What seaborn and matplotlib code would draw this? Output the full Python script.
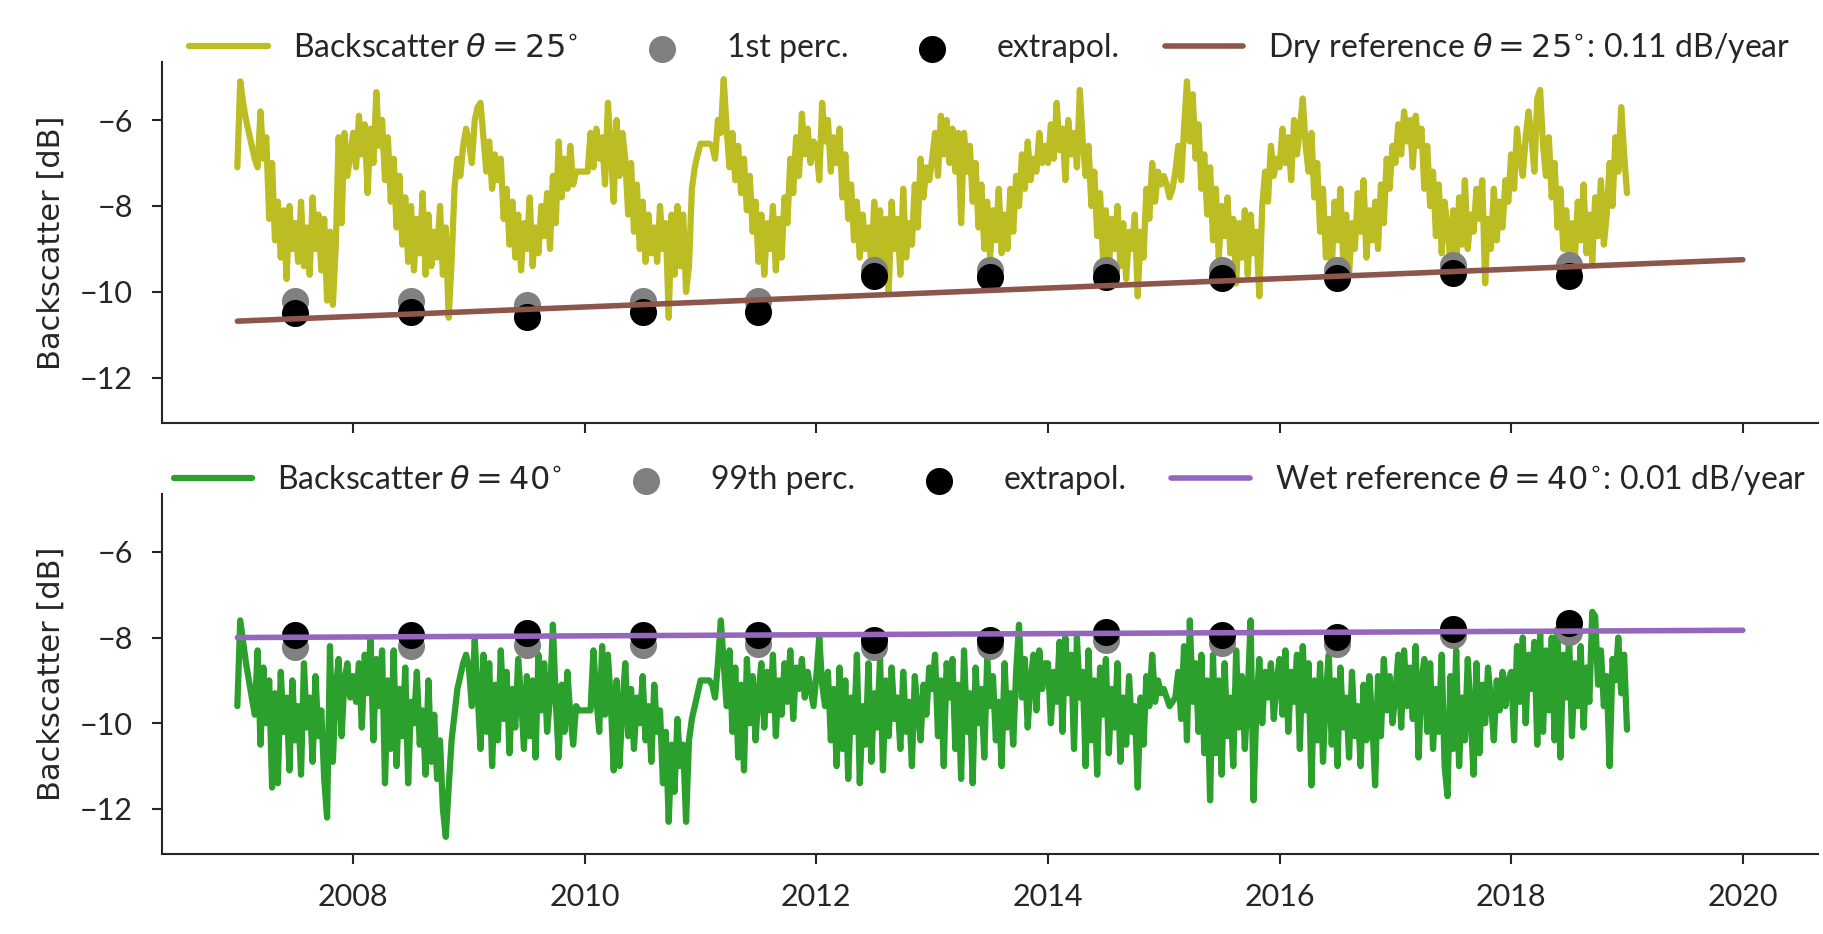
import numpy as np
import pandas as pd
import matplotlib
matplotlib.use('Agg')
import matplotlib.pyplot as plt
import seaborn as sns

# --- backscatter at 25 deg, one list per year (about every 9 days) ---
bs25_2007 = [-7.1, -5.1, -5.6, -6.0, -6.3, -6.6, -6.9, -7.1, -5.8, -6.9, -6.4, -8.3, -7.0, -8.8, -7.9, -9.2,
             -8.1, -9.7, -8.0, -9.0, -8.4, -9.3, -7.9, -9.4, -8.5, -9.6, -7.8, -9.0, -8.2, -9.5, -8.3, -10.2,
             -8.6, -10.3, -8.9, -6.4, -8.4, -6.3, -7.3, -6.8]
bs25_2008 = [-6.3, -7.1, -5.9, -6.8, -6.1, -7.7, -6.2, -7.0, -5.35, -6.6, -6.0, -7.4, -6.4, -7.9, -6.9, -8.5,
             -7.3, -8.9, -7.8, -9.3, -8.0, -9.5, -8.3, -9.1, -7.7, -9.6, -8.2, -9.4, -8.6, -9.2, -8.0, -9.6,
             -8.5, -10.6, -9.3, -7.6, -6.9, -7.3, -6.6, -6.2]
bs25_2009 = [-6.5, -7.0, -6.0, -5.7, -5.6, -6.4, -7.2, -6.5, -7.6, -6.8, -7.4, -6.9, -8.3, -7.6, -8.9, -7.9,
             -9.2, -8.2, -9.5, -8.4, -9.0, -7.8, -9.4, -8.5, -9.1, -8.0, -8.7, -7.7, -9.0, -7.3, -8.4, -6.5,
             -7.8, -6.9, -7.6, -6.6, -7.5, -7.2, -7.2, -7.2]
bs25_2010 = [-7.2, -7.2, -6.3, -7.1, -6.2, -6.9, -6.4, -7.5, -5.6, -6.7, -7.9, -6.0, -7.3, -6.3, -6.9, -8.2,
             -7.0, -8.6, -7.5, -9.0, -7.9, -9.3, -8.2, -9.1, -8.5, -9.3, -8.0, -9.0, -8.4, -10.6, -8.2, -9.6,
             -8.0, -9.4, -8.2, -10.0, -9.4, -7.6, -7.1, -6.8]
bs25_2011 = [-6.55, -6.55, -6.55, -6.55, -6.6, -6.9, -6.0, -6.3, -5.05, -6.2, -7.1, -6.3, -7.4, -6.6, -7.7, -6.9,
             -8.1, -7.3, -8.6, -7.9, -9.3, -8.2, -9.6, -8.4, -9.0, -8.0, -9.5, -8.3, -9.2, -7.8, -8.4, -6.9,
             -7.7, -6.4, -7.3, -5.85, -6.8, -6.2, -7.0, -6.5]
bs25_2012 = [-6.6, -7.4, -5.6, -6.5, -6.0, -7.2, -6.4, -7.0, -6.2, -7.8, -6.8, -8.3, -7.5, -8.8, -7.9, -9.2,
             -8.2, -9.0, -8.5, -9.4, -7.9, -9.3, -8.1, -9.5, -8.3, -10.0, -7.9, -9.0, -8.3, -9.6, -7.6, -9.2,
             -8.4, -8.9, -7.5, -8.5, -6.9, -7.8, -7.1, -7.4]
bs25_2013 = [-6.9, -6.3, -7.3, -5.9, -6.8, -6.0, -7.0, -6.2, -7.2, -6.3, -8.4, -6.3, -7.2, -6.6, -7.9, -7.0,
             -8.5, -7.5, -9.0, -7.9, -9.2, -8.1, -8.8, -7.6, -9.1, -8.2, -9.0, -7.6, -8.6, -7.3, -8.0, -6.8,
             -7.6, -6.5, -7.4, -6.9, -7.2, -6.3, -7.0, -6.6]
bs25_2014 = [-7.0, -6.1, -6.9, -5.6, -6.7, -6.2, -7.4, -6.0, -6.8, -6.3, -7.1, -5.3, -6.5, -7.3, -6.6, -8.0,
             -7.2, -8.7, -7.7, -9.2, -8.1, -9.5, -8.3, -9.0, -8.0, -9.4, -8.4, -9.7, -8.6, -9.0, -8.2, -10.1,
             -8.6, -9.2, -7.6, -8.3, -7.0, -7.9, -7.2, -7.5]
bs25_2015 = [-7.3, -7.5, -7.8, -7.6, -7.2, -6.6, -7.4, -6.2, -5.1, -6.5, -5.4, -6.9, -6.1, -7.6, -6.8, -8.2,
             -7.1, -8.8, -7.6, -9.2, -8.0, -8.7, -7.8, -9.1, -8.3, -9.8, -8.4, -9.2, -8.1, -9.6, -8.2, -9.1,
             -8.6, -10.1, -8.0, -7.2, -7.9, -6.6, -7.3, -6.9]
bs25_2016 = [-7.1, -6.2, -7.0, -6.4, -7.4, -6.0, -6.8, -6.2, -5.5, -6.6, -7.2, -6.3, -7.8, -7.0, -8.6, -7.6,
             -9.2, -8.3, -9.5, -7.9, -8.8, -7.6, -9.3, -8.2, -9.6, -8.4, -9.0, -7.7, -8.6, -7.4, -9.2, -8.1,
             -8.8, -7.9, -9.0, -7.5, -8.4, -6.9, -7.6, -6.6]
bs25_2017 = [-7.0, -6.1, -6.8, -5.8, -6.5, -6.0, -7.1, -5.9, -6.6, -6.2, -7.6, -6.6, -8.0, -7.2, -8.7, -7.5,
             -9.1, -7.9, -8.5, -9.3, -8.1, -9.5, -7.8, -8.9, -7.4, -9.0, -8.2, -8.6, -7.6, -8.3, -7.4, -9.8,
             -8.3, -9.0, -7.6, -8.8, -7.9, -8.5, -7.4, -7.9]
bs25_2018 = [-6.8, -7.6, -6.2, -6.9, -7.3, -6.4, -5.8, -6.4, -7.2, -5.5, -5.3, -6.6, -7.3, -6.4, -7.8, -7.0,
             -8.5, -7.6, -9.0, -8.1, -9.4, -8.4, -9.2, -7.9, -8.8, -7.5, -9.1, -8.2, -9.3, -7.8, -8.7, -7.4,
             -8.9, -8.2, -7.0, -8.0, -6.4, -7.2, -5.7, -6.8]
bs25_2019 = [-7.7]

# --- backscatter at 40 deg ---
bs40_2007 = [-9.6, -7.6, -8.1, -8.6, -9.0, -9.4, -9.8, -8.3, -10.5, -8.7, -10.0, -9.0, -11.5, -9.3, -11.4, -8.8,
             -10.2, -9.4, -11.1, -9.0, -10.4, -9.6, -11.2, -8.6, -10.1, -9.4, -10.9, -8.9, -10.3, -9.7, -11.3, -12.2,
             -8.2, -10.9, -9.2, -8.5, -10.3, -9.0, -8.6, -9.4]
bs40_2008 = [-8.9, -9.5, -8.6, -10.1, -8.4, -9.3, -8.0, -10.4, -8.5, -9.6, -8.3, -11.4, -9.0, -10.6, -8.3, -11.0,
             -9.2, -10.3, -8.7, -11.4, -9.5, -10.0, -8.8, -10.5, -9.7, -11.2, -9.0, -10.9, -9.8, -11.3, -10.4, -12.0,
             -12.65, -11.5, -10.4, -9.8, -9.2, -8.9, -8.6, -8.4]
bs40_2009 = [-8.7, -9.6, -8.05, -9.3, -10.6, -8.4, -10.2, -8.6, -11.0, -9.1, -10.4, -8.3, -9.9, -8.8, -10.7, -9.2,
             -10.1, -8.5, -9.4, -10.6, -8.9, -10.3, -9.0, -10.8, -8.4, -9.7, -8.6, -10.2, -9.4, -7.7, -9.5, -10.8,
             -9.1, -10.2, -8.8, -9.8, -10.5, -9.6, -9.7, -9.7]
bs40_2010 = [-9.7, -9.7, -9.7, -8.3, -9.4, -10.2, -8.2, -9.8, -8.4, -9.5, -11.1, -9.0, -11.0, -9.6, -8.6, -10.3,
             -9.2, -10.6, -9.4, -10.0, -8.9, -10.4, -9.6, -10.9, -9.1, -10.2, -9.7, -11.4, -10.2, -12.3, -10.5, -11.6,
             -9.9, -11.0, -10.5, -12.3, -10.4, -9.9, -9.6, -9.3]
bs40_2011 = [-9.0, -9.0, -9.0, -9.0, -9.1, -9.4, -8.6, -7.6, -8.6, -9.6, -8.3, -10.2, -8.7, -10.8, -9.1, -11.1,
             -8.5, -10.0, -8.9, -10.4, -9.3, -8.6, -10.1, -8.8, -9.7, -8.4, -10.3, -9.0, -9.8, -8.6, -9.5, -8.3,
             -9.9, -8.7, -9.2, -8.5, -9.4, -8.8, -9.2, -9.6]
bs40_2012 = [-8.9, -8.0, -9.1, -9.6, -8.8, -10.4, -9.2, -11.0, -8.7, -10.6, -9.0, -11.3, -9.4, -10.2, -8.4, -11.4,
             -9.6, -10.5, -8.6, -10.9, -9.3, -10.1, -8.5, -11.1, -9.0, -10.3, -8.7, -9.9, -9.4, -10.6, -8.8, -10.2,
             -9.5, -11.0, -8.9, -9.7, -10.4, -9.1, -9.8, -8.7]
bs40_2013 = [-9.2, -8.4, -10.3, -9.0, -11.0, -8.6, -9.4, -8.5, -10.6, -9.1, -11.3, -8.3, -10.2, -9.3, -11.4, -8.7,
             -10.0, -9.2, -10.8, -8.5, -9.6, -8.9, -10.4, -9.5, -11.0, -8.6, -10.1, -9.3, -10.5, -8.8, -7.7, -9.4,
             -8.5, -10.1, -9.0, -8.4, -9.7, -8.3, -9.2, -8.6]
bs40_2014 = [-8.6, -10.0, -8.8, -9.5, -8.1, -10.2, -8.0, -9.3, -8.4, -10.6, -8.0, -9.4, -8.8, -11.0, -8.3, -10.4,
             -9.0, -11.2, -8.7, -9.8, -8.5, -10.7, -9.2, -10.1, -8.6, -10.9, -9.4, -10.5, -8.9, -10.2, -9.6, -11.5,
             -9.4, -10.5, -8.9, -9.6, -8.4, -9.5, -9.0, -9.3]
bs40_2015 = [-9.2, -9.4, -9.6, -9.5, -9.4, -8.8, -9.9, -8.2, -10.4, -7.6, -9.5, -8.6, -10.2, -8.4, -10.7, -9.0,
             -11.8, -8.4, -10.7, -9.0, -11.2, -8.6, -10.3, -9.4, -11.0, -8.3, -10.1, -8.9, -10.6, -9.3, -7.6, -11.8,
             -9.6, -8.5, -10.0, -8.8, -9.4, -8.6, -9.9, -9.0]
bs40_2016 = [-8.5, -9.8, -8.3, -10.2, -8.8, -9.5, -8.4, -10.6, -8.2, -9.7, -8.6, -11.45, -9.0, -10.4, -8.6, -10.9,
             -9.3, -8.4, -10.5, -9.0, -11.0, -8.7, -10.1, -9.4, -10.8, -8.8, -10.3, -9.6, -11.0, -9.1, -10.4, -8.9,
             -9.9, -11.45, -8.9, -10.3, -8.5, -9.7, -8.9, -10.0]
bs40_2017 = [-9.3, -8.4, -10.1, -8.3, -9.6, -8.7, -9.9, -8.2, -10.8, -9.0, -8.5, -10.2, -8.6, -10.6, -9.2, -10.2,
             -8.4, -11.0, -11.7, -8.9, -10.6, -8.3, -11.0, -9.4, -10.4, -8.5, -9.8, -11.2, -8.6, -10.7, -9.1, -10.0,
             -8.7, -9.5, -10.4, -9.0, -9.7, -8.8, -9.6, -9.0]
bs40_2018 = [-8.8, -10.4, -8.2, -9.5, -8.0, -10.0, -8.4, -9.2, -8.1, -10.5, -7.9, -10.2, -8.3, -9.7, -8.0, -10.4,
             -7.8, -10.8, -8.4, -9.4, -8.0, -10.3, -8.6, -9.6, -8.2, -10.1, -8.7, -9.5, -7.4, -7.5, -9.1, -8.3,
             -9.6, -8.9, -11.0, -8.5, -9.0, -8.0, -9.3, -8.4]
bs40_2019 = [-10.15]

# --- yearly percentiles / extrapolated values ---
perc_years = [2007.5, 2008.5, 2009.5, 2010.5, 2011.5, 2012.5, 2013.5, 2014.5, 2015.5, 2016.5, 2017.5, 2018.5]
dry_p1 = [-10.2, -10.2, -10.3, -10.2, -10.2, -9.5, -9.5, -9.48, -9.5, -9.48, -9.38, -9.38]
dry_extrapol = [-10.5, -10.47, -10.58, -10.46, -10.46, -9.62, -9.65, -9.65, -9.67, -9.67, -9.57, -9.63]
wet_p99 = [-8.21, -8.2, -8.18, -8.18, -8.16, -8.23, -8.2, -8.05, -8.12, -8.16, -7.93, -7.86]
wet_extrapol = [-7.95, -7.93, -7.89, -7.93, -7.95, -8.05, -8.05, -7.88, -7.95, -7.98, -7.79, -7.65]

# --- reference trend lines ---
ref_years = [2007, 2020]
dry_ref = [-10.68, -9.25]
wet_ref = [-8.0, -7.83]


def build_series(blocks, first_year):
    t, v = [], []
    for k, vals in enumerate(blocks):
        for i, val in enumerate(vals):
            t.append(first_year + k + i / 40)
            v.append(val)
    return pd.DataFrame({'time': t, 'backscatter': v})


df25 = build_series([bs25_2007, bs25_2008, bs25_2009, bs25_2010, bs25_2011, bs25_2012, bs25_2013,
                     bs25_2014, bs25_2015, bs25_2016, bs25_2017, bs25_2018, bs25_2019], 2007)
df40 = build_series([bs40_2007, bs40_2008, bs40_2009, bs40_2010, bs40_2011, bs40_2012, bs40_2013,
                     bs40_2014, bs40_2015, bs40_2016, bs40_2017, bs40_2018, bs40_2019], 2007)

sns.set_theme(style='ticks')
plt.rcParams['font.family'] = ['Lato', 'DejaVu Sans']
plt.rcParams['mathtext.fontset'] = 'dejavusans'
plt.rcParams['axes.linewidth'] = 1.5

fig = plt.figure(figsize=(18.23, 9.34), dpi=100)
ax1 = fig.add_axes([0.0889, 0.5471, 0.9084, 0.3865])
ax2 = fig.add_axes([0.0889, 0.0857, 0.9084, 0.3854], sharex=ax1, sharey=ax1)

panels = [
    (ax1, df25, '#bcbd22', r'Backscatter $\theta = 25^{\circ}$', dry_p1, '1st perc.', dry_extrapol,
     dry_ref, '#8c564b', r'Dry reference $\theta = 25^{\circ}$: 0.11 dB/year'),
    (ax2, df40, '#2ca02c', r'Backscatter $\theta = 40^{\circ}$', wet_p99, '99th perc.', wet_extrapol,
     wet_ref, '#9467bd', r'Wet reference $\theta = 40^{\circ}$: 0.01 dB/year'),
]

for ax, df, col, lab, perc, perc_lab, extra, ref, ref_col, ref_lab in panels:
    sns.lineplot(data=df, x='time', y='backscatter', color=col, lw=4.5, sort=False,
                 estimator=None, label=lab, ax=ax, zorder=2)
    sns.scatterplot(x=perc_years, y=perc, color='grey', s=380, linewidth=0,
                    label=perc_lab, ax=ax, zorder=3)
    sns.scatterplot(x=perc_years, y=extra, color='black', s=380, linewidth=0,
                    label='extrapol.', ax=ax, zorder=4)
    sns.lineplot(x=ref_years, y=ref, color=ref_col, lw=4, label=ref_lab, ax=ax, zorder=5)

    ax.legend(loc='center', bbox_to_anchor=(0.5, 1.039), ncol=4, frameon=False, fontsize=23,
              handlelength=2.45, handletextpad=0.8, columnspacing=1.4, borderpad=0, borderaxespad=0)
    ax.set_xlabel('')
    ax.set_ylabel('Backscatter [dB]', fontsize=22, family='DejaVu Sans')
    ax.yaxis.set_label_coords(-0.058, 0.5)
    ax.tick_params(axis='both', labelsize=22, length=7, width=1.5, pad=14)
    sns.despine(ax=ax)

ax1.set_xlim(2006.35, 2020.65)
ax1.set_ylim(-13.05, -4.65)
ax1.set_xticks(range(2008, 2021, 2))
ax1.set_yticks([-6, -8, -10, -12])
ax1.xaxis.get_major_formatter().set_useOffset(False)
ax1.tick_params(labelbottom=False)

fig.savefig('out.png', dpi=100)
print("Figura salva em out.png")
